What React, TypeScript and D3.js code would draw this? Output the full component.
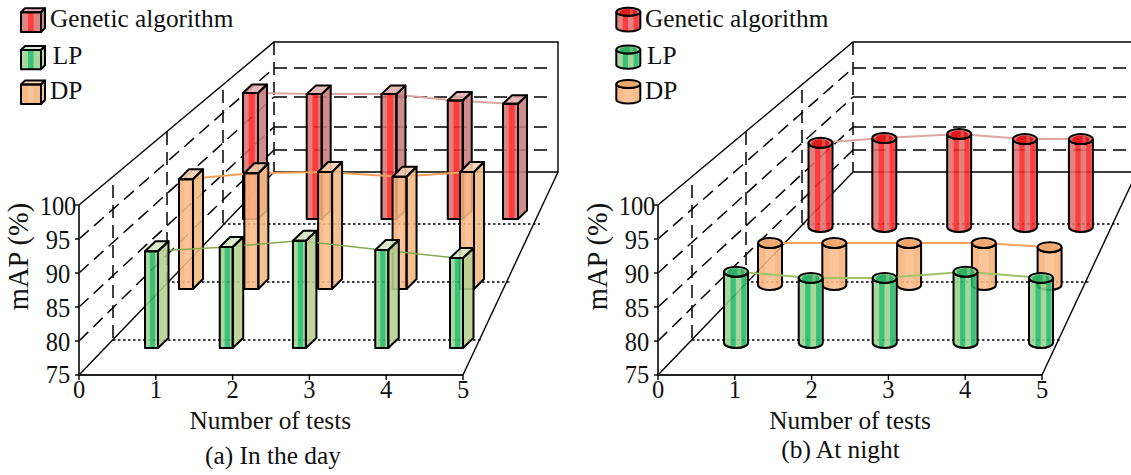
import React from 'react'
import * as d3 from 'd3'

const tests = [0, 1, 2, 3, 4, 5]
const mapTicks = [75, 80, 85, 90, 95, 100]

// values (mAP %)
const dayGenetic = [98.5, 98.3, 98.3, 97.1, 96.5]
const dayDP = [93.3, 94.3, 94.5, 93.7, 94.5]
const dayLP = [90.6, 91.3, 92.3, 90.8, 89.5]
const nightGenetic = [90.7, 91.6, 92.35, 91.4, 91.4]
const nightDP = [82, 82, 82, 82, 81.3]
const nightLP = [86.5, 85.5, 85.5, 86.5, 85.5]

// where each bar stands along the test axis (the drawing is not quite regular)
const dayGeneticAt = [1, 1.98, 3.13, 4.15, 5]
const dayDPAt = [1, 1.93, 2.98, 4.04, 5]
const dayLPAt = [1, 1.98, 2.94, 4.02, 5]
const nightGeneticAt = [1, 1.98, 3.13, 4.14, 5]
const nightDPAt = [1, 1.92, 2.99, 4.06, 5]
const nightLPAt = [1, 1.98, 2.95, 4.01, 5]

const FONT = '"Liberation Serif", "Times New Roman", serif'
const W = 1131
const H = 475

const twoBands = [[0.27, 0.49], [0.72, 0.93]]
const GA = { name: 'Genetic algorithm', pale: '#dc7272', strong: '#ff2323', side: '#c97d7d', top: '#e5aeae', inner: '#e00000', line: '#dca6a2', cyl: twoBands }
const LP = { name: 'LP', pale: '#9dd28f', strong: '#1fb968', side: '#b7d08f', top: '#d6e6c2', inner: '#12a558', line: '#86a84e', cyl: twoBands }
const DP = { name: 'DP', pale: '#f6b27a', strong: '#fbbd8b', side: '#f5b981', top: '#f7cfae', inner: '#eba268', line: '#f2a25a', cyl: [[0.3, 0.7]] }

// frame shared by both panels, relative to the panel origin on the axis corner
const frameX = d3.scaleLinear().domain([0, 5]).range([0, 384])
const frontY = d3.scaleLinear().domain([75, 100]).range([375, 205])
const levels = [80, 85, 90, 95]
const backLevelY = [150, 127, 97, 68]
const backTop = 42
const backBottom = 172
const depthX = [195, 284 + 195]
const rowLines = [
  { x: 34, top: 185, y: 340, end: 404 },
  { x: 88, top: 132, y: 282, end: 431 },
  { x: 144, top: 90, y: 224, end: 461 },
]

function Stripes({ x, w, y, h, s, bands }) {
  return (
    <g stroke="none">
      <rect x={x} y={y} width={w} height={h} fill={s.pale} />
      {bands.map((b, i) => (
        <rect key={i} x={x + w * b[0]} y={y} width={w * (b[1] - b[0])} height={h} fill={s.strong} />
      ))}
    </g>
  )
}

function Cube({ x, w, top, base, dx, dy, s, bands = [[0.38, 0.78]] }) {
  const front = `M${x},${top}H${x + w}V${base}H${x}Z`
  const side = `M${x + w},${top}L${x + w + dx},${top - dy}V${base - dy}L${x + w},${base}Z`
  const lid = `M${x},${top}L${x + dx},${top - dy}H${x + w + dx}L${x + w},${top}Z`
  return (
    <g stroke="#000" strokeWidth={2} strokeLinejoin="round">
      <g opacity={0.88}>
        <Stripes x={x} w={w} y={top} h={base - top} s={s} bands={bands} />
        <path d={side} fill={s.side} stroke="none" />
        <path d={lid} fill={s.top} stroke="none" />
      </g>
      <path d={front} fill="none" />
      <path d={side} fill="none" />
      <path d={lid} fill="none" />
    </g>
  )
}

let clipCount = 0
function Cylinder({ cx, w, top, base, ry, s }) {
  const id = `cyl-${clipCount++}`
  const rx = w / 2
  const x = cx - rx
  const body = `M${x},${top}V${base}A${rx},${ry} 0 0 0 ${x + w},${base}V${top}A${rx},${ry} 0 0 1 ${x},${top}Z`
  return (
    <g stroke="#000" strokeWidth={2}>
      <clipPath id={id}>
        <path d={body} />
      </clipPath>
      <g opacity={0.88} clipPath={`url(#${id})`}>
        <Stripes x={x} w={w} y={top - ry} h={base - top + 2 * ry} s={s} bands={s.cyl} />
      </g>
      <path d={body} fill="none" />
      <ellipse cx={cx} cy={top} rx={rx} ry={ry} fill={s.pale} fillOpacity={0.9} stroke="none" />
      <ellipse cx={cx} cy={top + 0.5} rx={rx * 0.74} ry={ry * 0.8} fill={s.inner} fillOpacity={0.8} stroke="none" />
      <rect x={x + w * 0.56} y={top - ry * 0.7} width={w * 0.14} height={ry * 1.5} fill={s.pale} fillOpacity={0.55} stroke="none" />
      <ellipse cx={cx} cy={top} rx={rx} ry={ry} fill="none" />
    </g>
  )
}

function Frame({ ox, caption, captionX, captionY, labelX, labelBaseX }) {
  const dash = { stroke: '#000', strokeWidth: 1.5, strokeDasharray: '13 7', fill: 'none' }
  const dot = { stroke: '#000', strokeWidth: 1.5, strokeDasharray: '2.5 2.5', fill: 'none' }
  const solid = { stroke: '#000', strokeWidth: 1.4, fill: 'none' }
  const [dL, dR] = depthX
  return (
    <g fontFamily={FONT} fill="#111">
      <g transform={`translate(${ox},0)`}>
        {/* walls */}
        <path d={`M0,${frontY(100)}L${dL},${backTop}H${dR}V${backBottom}H${dL}`} {...solid} />
        <path d={`M0,${frontY(75)}L${dL},${backBottom}`} {...solid} />
        <path d={`M${frameX(5)},${frontY(75)}L${dR},${backBottom}`} {...solid} />
        <line x1={dL} x2={dL} y1={backTop} y2={backBottom} {...dash} />
        {levels.map((v, i) => (
          <g key={v}>
            <line x1={0} y1={frontY(v)} x2={dL} y2={backLevelY[i]} {...dash} />
            <line x1={dL} y1={backLevelY[i]} x2={dR - 4} y2={backLevelY[i]} {...dash} />
          </g>
        ))}
        {rowLines.map((r) => (
          <g key={r.x}>
            <line x1={r.x} x2={r.x} y1={r.top} y2={r.y} {...dash} />
            <line x1={r.x} x2={r.end} y1={r.y} y2={r.y} {...dot} />
          </g>
        ))}
        {/* axes */}
        <path d={`M0,${frontY(100)}V${frontY(75)}H${frameX(5)}`} stroke="#222" strokeWidth={1.8} fill="none" />
        {mapTicks.map((v) => (
          <g key={v}>
            <line x1={-4} x2={0} y1={frontY(v)} y2={frontY(v)} stroke="#000" strokeWidth={1.4} />
            {/* 75 sits lower and is set smaller than the other tick labels */}
            {v === 75 ? (
              <text x={-21} y={frontY(v) + 7.5} textAnchor="middle" fontSize={24.5}>{v}</text>
            ) : (
              <text transform={`translate(-21,${frontY(v) + 10}) scale(0.89,1)`} textAnchor="middle" fontSize={27.5}>{v}</text>
            )}
          </g>
        ))}
        {tests.map((t) => (
          <g key={t}>
            <line x1={frameX(t)} x2={frameX(t)} y1={375} y2={380} stroke="#000" strokeWidth={1.4} />
            <text x={frameX(t)} y={398} textAnchor="middle" fontSize={24.5}>{t}</text>
          </g>
        ))}
        <text transform={`translate(${labelBaseX},256.5) rotate(-90)`} textAnchor="middle" fontSize={28.5}>mAP (%)</text>
        <text x={labelX} y={429} textAnchor="middle" fontSize={25.3}>Number of tests</text>
        <text x={captionX} y={captionY} textAnchor="middle" fontSize={25.4}>{caption}</text>
      </g>
    </g>
  )
}

const rowStyle = {
  ga: { w: 15, dx: 9, dy: 8.5, left: 185.5, unit: 65, base: 219, k: 5.36 },
  dp: { w: 14, dx: 10, dy: 10, left: 115.75, unit: 70.25, base: 289, k: 6 },
  lp: { w: 13, dx: 10.5, dy: 10, left: 75.25, unit: 76.25, base: 348, k: 6.2 },
}
const cylRow = {
  ga: { left: 755.4, unit: 65.1, base: 227, k: 5.36 },
  dp: { left: 700.1, unit: 69.9, base: 285, k: 6 },
  lp: { left: 659.75, unit: 76.25, base: 343, k: 6.2 },
}

function rowScales(r) {
  const x = d3.scaleLinear().domain([0, 5]).range([r.left, r.left + 5 * r.unit])
  const y = d3.scaleLinear().domain([75, 100]).range([r.base, r.base - 25 * r.k])
  return { x, y }
}

function SeriesLine({ at, values, x, y, color, width }) {
  const pts = at.map((a, i) => [x(a), y(values[i])])
  const d = d3.line().curve(d3.curveLinear)(pts)
  return <path d={d} fill="none" stroke={color} strokeWidth={width} />
}

function CubeRow({ at, values, r, s, width }) {
  const { x, y } = rowScales(r)
  return (
    <g>
      <SeriesLine at={at} values={values} x={x} y={y} color={s.line} width={width} />
      {at.map((a, i) => (
        <Cube key={i} x={x(a) - r.w / 2} w={r.w} top={y(values[i])} base={r.base} dx={r.dx} dy={r.dy} s={s} />
      ))}
    </g>
  )
}

function CylRow({ at, values, r, s, width, color }) {
  const { x, y } = rowScales(r)
  return (
    <g>
      <SeriesLine at={at} values={values} x={x} y={y} color={color || s.line} width={width} />
      {at.map((a, i) => (
        <Cylinder key={i} cx={x(a)} w={24} top={y(values[i])} base={r.base} ry={5} s={s} />
      ))}
    </g>
  )
}

function Legend() {
  const t = { fontFamily: FONT, fontSize: 25.3, fill: '#111' }
  const rows = [
    { s: GA, top: 12.3, base: 32, text: 27, a: 50, b: 645 },
    { s: LP, top: 50, base: 69.3, text: 64, a: 52.7, b: 647 },
    { s: DP, top: 84.5, base: 104, text: 99, a: 50, b: 645 },
  ]
  return (
    <g>
      {rows.map((r) => (
        <g key={r.s.name}>
          <Cube x={21} w={20} top={r.top} base={r.base} dx={4} dy={4} s={r.s} bands={[[0.35, 0.63]]} />
          <Cylinder cx={628.3} w={24} top={r.top - 0.5} base={r.base - 4.5} ry={4} s={r.s} />
          <text x={r.a} y={r.text} {...t}>{r.s.name}</text>
          <text x={r.b} y={r.text} {...t}>{r.s.name}</text>
        </g>
      ))}
    </g>
  )
}

export default function App() {
  clipCount = 0
  return (
    <svg width={W} height={H} viewBox={`0 0 ${W} ${H}`} style={{ position: 'absolute', left: 0, top: 0, display: 'block', background: '#fff' }}>
      <Frame ox={79} caption="(a) In the day" captionX={194} captionY={464} labelX={191.3} labelBaseX={-51} />
      <Frame ox={658} caption="(b) At night" captionX={182.5} captionY={458} labelX={192} labelBaseX={-51} />

      <CubeRow at={dayGeneticAt} values={dayGenetic} r={rowStyle.ga} s={GA} width={2} />
      <CubeRow at={dayDPAt} values={dayDP} r={rowStyle.dp} s={DP} width={2} />
      <CubeRow at={dayLPAt} values={dayLP} r={rowStyle.lp} s={LP} width={1.5} />

      <CylRow at={nightGeneticAt} values={nightGenetic} r={cylRow.ga} s={GA} width={2} />
      <CylRow at={nightDPAt} values={nightDP} r={cylRow.dp} s={DP} width={2} />
      <CylRow at={nightLPAt} values={nightLP} r={cylRow.lp} s={LP} width={2} color="#a2c26a" />

      <Legend />
    </svg>
  )
}
